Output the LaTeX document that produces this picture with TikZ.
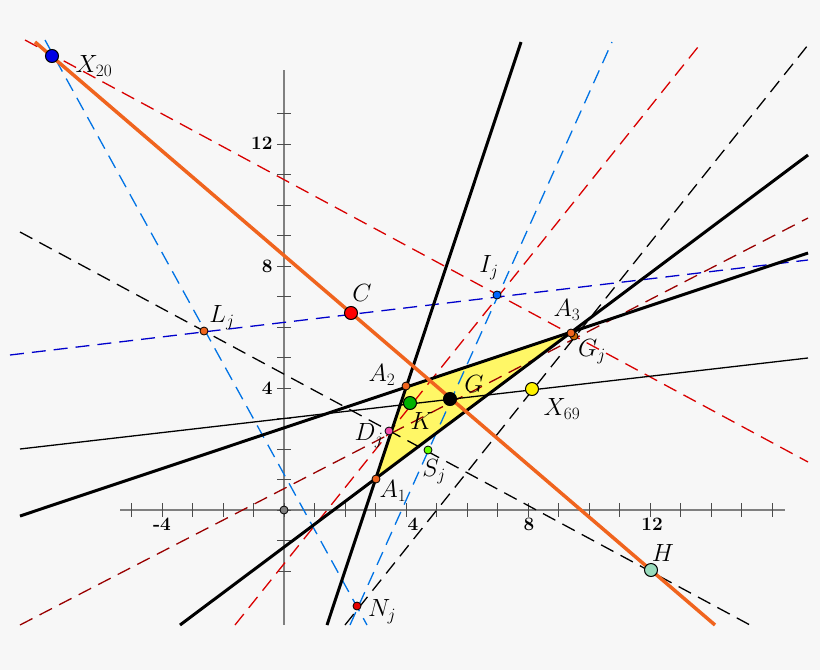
\documentclass[tikz,border=0pt]{standalone}
\begin{document}
\begin{tikzpicture}[x=1pt,y=-1pt,
  dsh/.style={dash pattern=on 14pt off 8pt, line width=1.3pt},
  thk/.style={line width=3pt,black},
  big/.style={circle,draw=black,line width=1pt,inner sep=0pt,minimum size=13pt},
  sml/.style={circle,draw=black,line width=0.8pt,inner sep=0pt,minimum size=8pt},
  lbl/.style={font=\fontsize{26}{29}\selectfont},
  tck/.style={font=\fontsize{19}{22}\selectfont\bfseries}]
\definecolor{orng}{RGB}{240,100,30}
\fill[black!3] (0,0) rectangle (820,670);
\useasboundingbox (0,0) rectangle (820,670);
% axes
\draw[gray,line width=1.3pt] (120,510) -- (785,510);
\draw[gray,line width=1.3pt] (284,70) -- (284,625);
\foreach \i in {-5,...,16} {\draw[gray!60!black,line width=1pt] ({284+30.5*\i},503) -- ({284+30.5*\i},517);}
\foreach \i in {-2,...,13} {\draw[gray!60!black,line width=1pt] (277,{510-30.5*\i}) -- (291,{510-30.5*\i});}
\node[tck] at (162,524) {-4};
\node[tck] at (413,524) {4};
\node[tck] at (529,524) {8};
\node[tck] at (652,524) {12};
\node[tck,anchor=east] at (276,143) {12};
\node[tck,anchor=east] at (276,266) {8};
\node[tck,anchor=east] at (276,388) {4};
% triangle
\coordinate (A1) at (376,479); \coordinate (A2) at (406,386); \coordinate (A3) at (571,333);
\fill[yellow!60] (A1) -- (A2) -- (A3) -- cycle;
% dashed lines
\draw[dsh,red!85!black] (25,40) -- (808,462);
\draw[dsh,red!85!black] (235,625) -- (702,42);
\draw[dsh,red!60!black] (20,625) -- (808,218);
\draw[dsh,blue!50!cyan!90!black] (45,40) -- (367,625);
\draw[dsh,blue!50!cyan!90!black] (350,625) -- (612,42);
\draw[dsh,blue!80!black] (10,355) -- (808,260);
\draw[dsh,black] (20,232) -- (750,625);
\draw[dsh,black] (345,625) -- (808,45);
% solid lines
\draw[black,line width=1.3pt] (20,449) -- (808,358);
\draw[thk] (327,625) -- (521,42);
\draw[thk] (20,516) -- (808,253);
\draw[thk] (180,625) -- (808,155);
\draw[line width=3.5pt,orng] (35,42) -- (715,625);
% points
\node[sml,fill=gray] (O) at (284,510) {};
\node[big,fill=blue!90!black] (X20) at (52,56) {};
\node[big,fill=red] (C) at (351,313) {};
\node[big,fill=black] (G) at (450,399) {};
\node[big,fill=green!70!black] (K) at (410,403) {};
\node[big,fill=yellow] (X69) at (532,389) {};
\node[big,fill=cyan!30!green!40] (H) at (651,570) {};
\node[sml,fill=orng] (A1n) at (A1) {};
\node[sml,fill=orng] (A2n) at (A2) {};
\node[sml,fill=orange!80!black] (Gj) at (574,336) {};
\node[sml,fill=orng] (A3n) at (A3) {};
\node[sml,fill=magenta!70] (Dj) at (389,431) {};
\node[sml,fill=green!60!yellow] (Sj) at (428,450) {};
\node[sml,fill=blue!60!cyan] (Ij) at (497,295) {};
\node[sml,fill=orng] (Lj) at (204,331) {};
\node[sml,fill=red!90!black] (Nj) at (357,606) {};
% labels
\node[lbl] at (94,66) {$X_{20}$};
\node[lbl] at (362,293) {$C$};
\node[lbl] at (474,384) {$G$};
\node[lbl] at (422,421) {$K$};
\node[lbl] at (562,409) {$X_{69}$};
\node[lbl] at (663,553) {$H$};
\node[lbl] at (393,491) {$A_1$};
\node[lbl] at (382,375) {$A_2$};
\node[lbl] at (567,310) {$A_3$};
\node[lbl] at (592,352) {$G_j$};
\node[lbl] at (369,436) {$D_j$};
\node[lbl] at (434,472) {$S_j$};
\node[lbl] at (489,268) {$I_j$};
\node[lbl] at (222,318) {$L_j$};
\node[lbl] at (382,612) {$N_j$};
\end{tikzpicture}
\end{document}
